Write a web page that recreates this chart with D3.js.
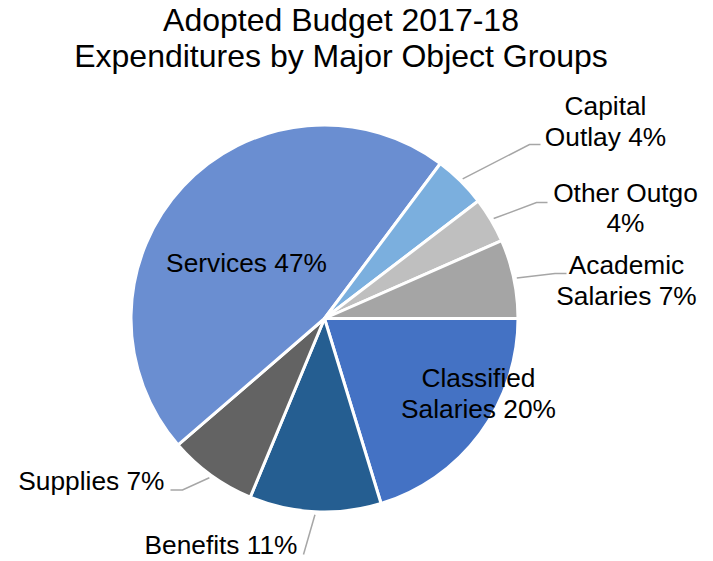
<!DOCTYPE html>
<html>
<head>
<meta charset="utf-8">
<script src="https://cdn.jsdelivr.net/npm/d3@7"></script>
<style>
  html, body { margin: 0; padding: 0; background: #fff; }
  svg { display: block; }
  text { font-family: "Liberation Sans", Arial, sans-serif; fill: #000; }
</style>
</head>
<body>
<svg id="chart" width="713" height="561"></svg>
<script>
// Expenditure categories, clockwise from 3 o'clock
const categories = ["Classified Salaries", "Benefits", "Supplies", "Services", "Capital Outlay", "Other Outgo", "Academic Salaries"];
// Share of total expenditures (percent)
const shares = [20.3, 11.0, 7.4, 46.6, 4.4, 3.8, 6.6];
const sliceColors = ["#4472C4", "#255E91", "#636363", "#6A8ED1", "#7BAFDE", "#BFBFBF", "#A5A5A5"];
const titleLines = ["Adopted Budget 2017-18", "Expenditures by Major Object Groups"];

const width = 713, height = 561;
const cx = 324.5, cy = 318.5, radius = 193.5;

// Label placement: text anchor point (relative to pie centre), words on first line,
// and leader-line elbow / end points for labels outside the pie.
const labelLayout = {
  "Classified Salaries": { x: 154, y: 68.5, anchor: "middle", firstLine: 1 },
  "Benefits":            { x: -27, y: 235, anchor: "end", firstLine: 2, leader: [[-21, 236]] },
  "Supplies":            { x: -160, y: 171, anchor: "end", firstLine: 2, leader: [[-142, 171.5], [-154, 171.5]] },
  "Services":            { x: -78, y: -46.5, anchor: "middle", firstLine: 2 },
  "Capital Outlay":      { x: 281, y: -203.5, anchor: "middle", firstLine: 1, leader: [[205, -174], [216, -174]] },
  "Other Outgo":         { x: 301, y: -117, anchor: "middle", firstLine: 2, leader: [[212, -116], [223, -116]] },
  "Academic Salaries":   { x: 302, y: -44.5, anchor: "middle", firstLine: 1, leader: [[230.5, -45], [242, -45]] }
};

const data = categories.map((name, i) => ({ name, value: shares[i], color: sliceColors[i] }));
const total = d3.sum(shares);

const svg = d3.select("#chart");

// Title
svg.append("g")
  .selectAll("text")
  .data(titleLines)
  .join("text")
  .attr("x", 341)
  .attr("y", (d, i) => 31 + i * 36)
  .attr("text-anchor", "middle")
  .style("font-size", "32px")
  .text(d => d);

const pie = d3.pie()
  .sort(null)
  .value(d => d.value)
  .startAngle(Math.PI / 2)
  .endAngle(Math.PI / 2 + 2 * Math.PI);

const arcs = pie(data);
const arc = d3.arc().innerRadius(0).outerRadius(radius);

const g = svg.append("g").attr("transform", `translate(${cx},${cy})`);

g.selectAll("path.slice")
  .data(arcs)
  .join("path")
  .attr("class", "slice")
  .attr("d", arc)
  .attr("fill", d => d.data.color)
  .attr("stroke", "#fff")
  .attr("stroke-width", 3)
  .attr("stroke-linejoin", "round");

// Leader lines start just outside the slice at its mid-angle
const leaderStart = d => {
  const a = (d.startAngle + d.endAngle) / 2;
  const r = radius + 3;
  return [Math.sin(a) * r, -Math.cos(a) * r];
};

g.selectAll("polyline.leader")
  .data(arcs.filter(d => labelLayout[d.data.name].leader))
  .join("polyline")
  .attr("class", "leader")
  .attr("points", d => [leaderStart(d), ...labelLayout[d.data.name].leader].map(p => p.join(",")).join(" "))
  .attr("fill", "none")
  .attr("stroke", "#A6A6A6")
  .attr("stroke-width", 1.5);

// Labels: category name plus rounded percentage, wrapped onto two lines where needed
const labels = g.selectAll("text.label")
  .data(arcs)
  .join("text")
  .attr("class", "label")
  .attr("text-anchor", d => labelLayout[d.data.name].anchor)
  .style("font-size", "26.3px");

labels.each(function(d) {
  const lay = labelLayout[d.data.name];
  const pct = Math.round(d.data.value / total * 100) + "%";
  const words = (d.data.name + " " + pct).split(" ");
  const lines = [words.slice(0, lay.firstLine).join(" "), words.slice(lay.firstLine).join(" ")].filter(s => s.length);
  d3.select(this).selectAll("tspan")
    .data(lines)
    .join("tspan")
    .attr("x", lay.x)
    .attr("y", (l, i) => lay.y + i * 30.5)
    .text(l => l);
});
</script>
</body>
</html>
